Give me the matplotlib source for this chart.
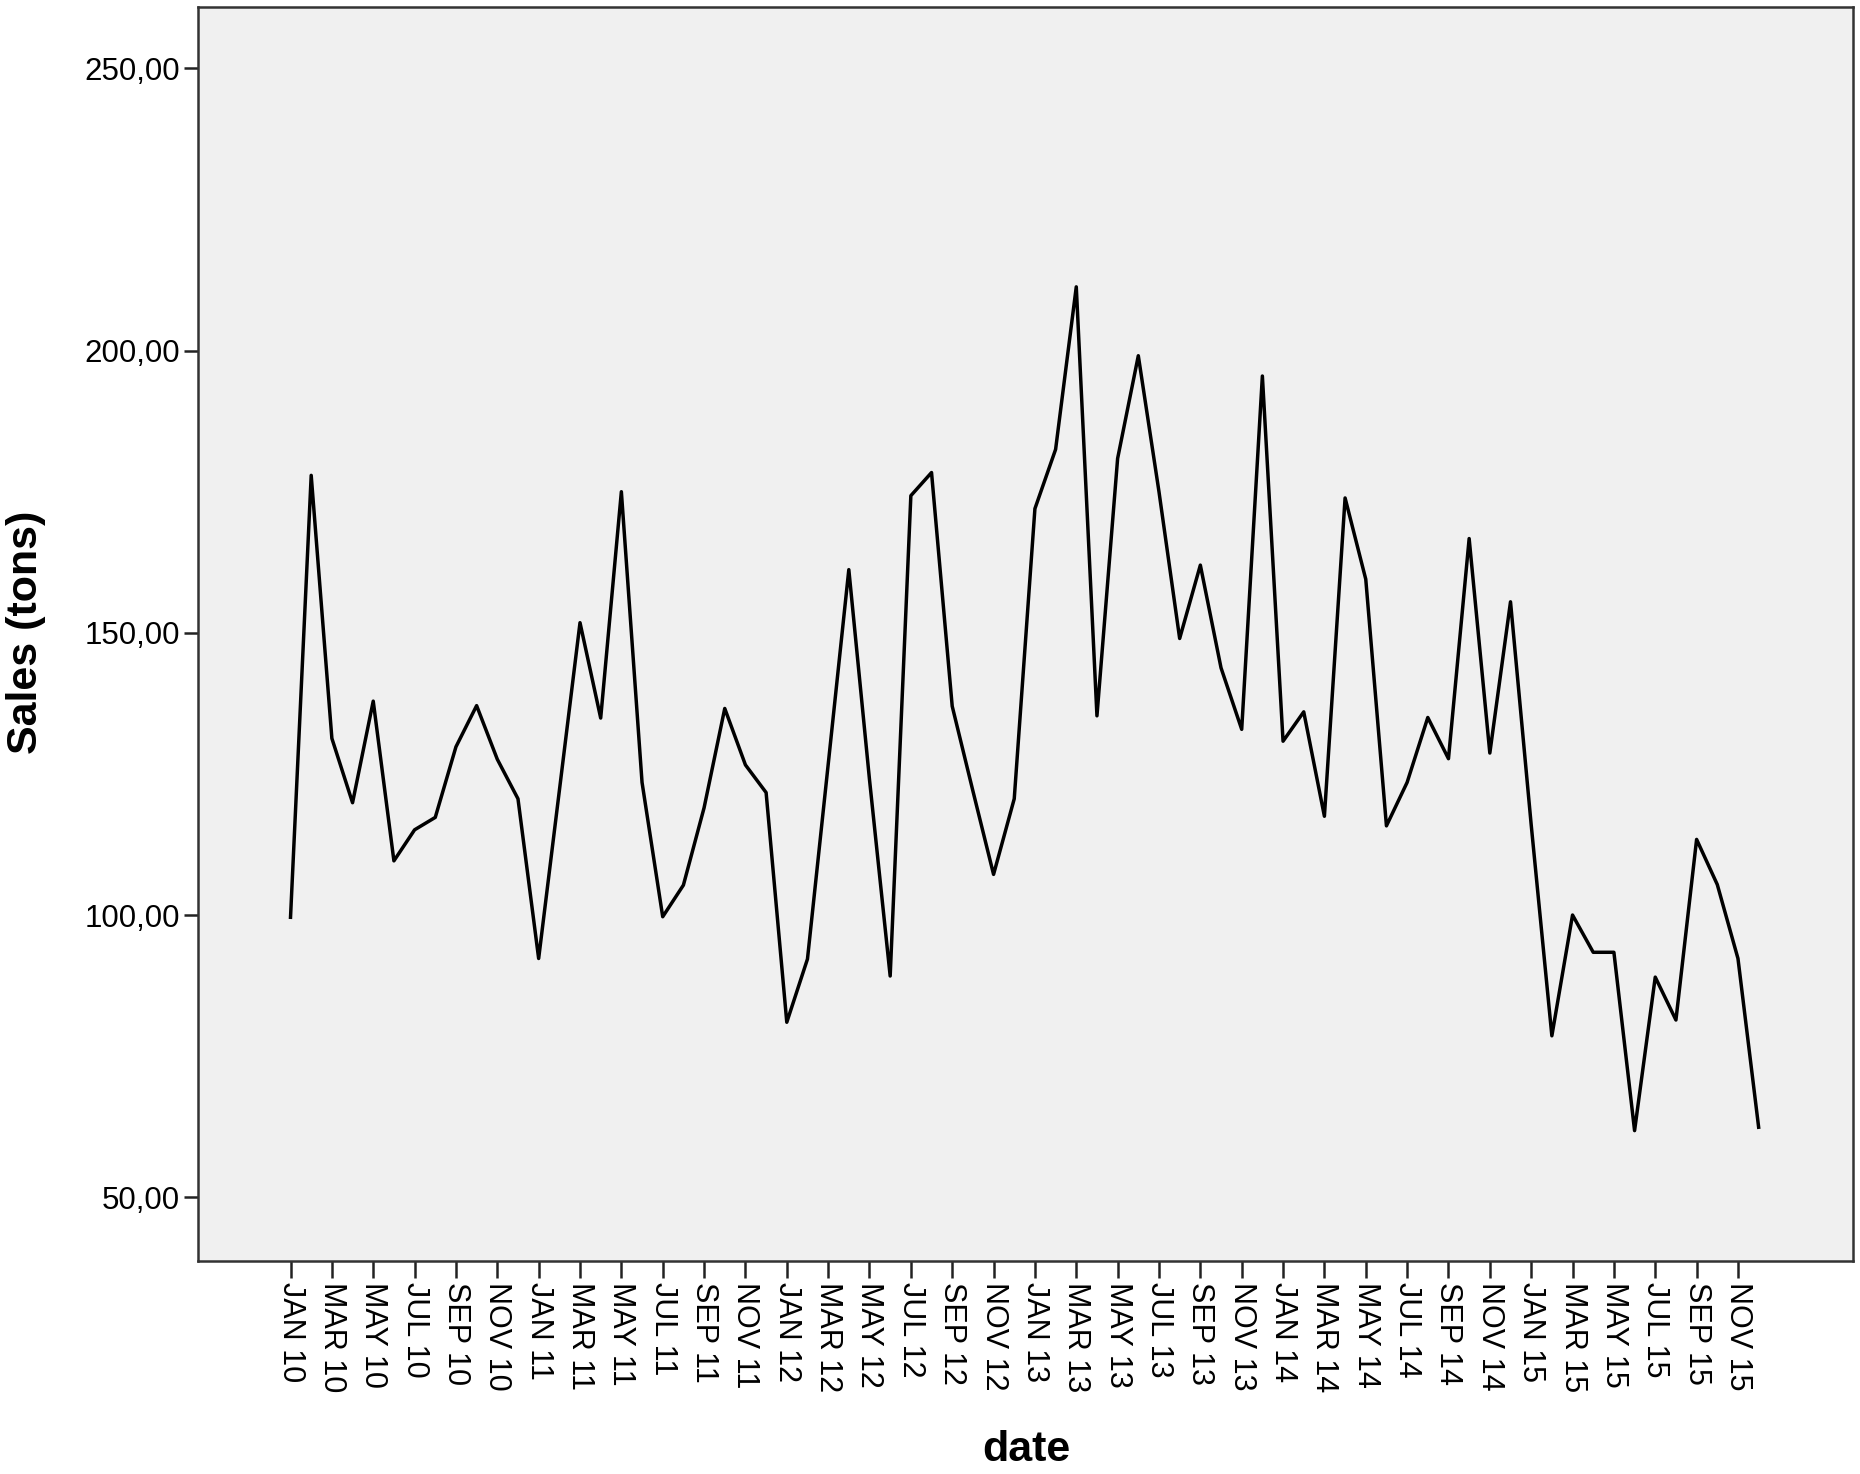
import numpy as np
import matplotlib
matplotlib.use("Agg")
import matplotlib.pyplot as plt
from matplotlib.ticker import FuncFormatter

plt.rcParams['font.family'] = ['Liberation Sans', 'DejaVu Sans']

# monthly sales (tons)
sales_2010 = [99.6, 177.9, 131.3, 119.9, 137.9, 109.6, 115.1, 117.3, 129.8, 137.1, 127.6, 120.6]
sales_2011 = [92.3, 122.0, 151.8, 134.9, 175.0, 123.5, 99.7, 105.3, 119.0, 136.6, 126.6, 121.7]
sales_2012 = [81.0, 92.2, 126.6, 161.2, 124.0, 89.2, 174.3, 178.4, 137.0, 122.0, 107.2, 120.6]
sales_2013 = [172.0, 182.5, 211.3, 135.3, 180.9, 199.1, 175.0, 149.0, 162.0, 143.8, 132.9, 195.5]
sales_2014 = [130.8, 136.0, 117.5, 173.9, 159.5, 115.8, 123.5, 135.0, 127.7, 166.7, 128.7, 155.5]
sales_2015 = [116.0, 78.6, 100.0, 93.4, 93.4, 61.8, 89.0, 81.4, 113.4, 105.4, 92.3, 62.4]

months = ['JAN', 'FEB', 'MAR', 'APR', 'MAY', 'JUN', 'JUL', 'AUG', 'SEP', 'OCT', 'NOV', 'DEC']
years = ['10', '11', '12', '13', '14', '15']
y_ticks = [50, 100, 150, 200, 250]

sales = np.array(sales_2010 + sales_2011 + sales_2012 + sales_2013 + sales_2014 + sales_2015)
labels = [f"{m} {y}" for y in years for m in months]
x = np.arange(len(sales))

fig = plt.figure(figsize=(18.6, 14.74), dpi=100)
ax = fig.add_axes([0.1065, 0.1445, 0.8897, 0.8508])
ax.set_facecolor('#f0f0f0')

ax.plot(x, sales, color='black', linewidth=2.5)

ax.set_xlim(-4.47, 75.56)
ax.set_ylim(38.7, 260.9)

# every second month gets a label, like the SPSS output
ax.set_xticks(x[::2])
ax.set_xticklabels(labels[::2], rotation=-90, fontsize=22, va='top', ha='center')
ax.set_yticks(y_ticks)
ax.yaxis.set_major_formatter(FuncFormatter(lambda v, p: f"{v:.2f}".replace('.', ',')))
ax.tick_params(axis='y', labelsize=22.5, length=10, width=1.8, color='#222222', pad=3)
ax.tick_params(axis='x', length=12, width=1.8, color='#222222', pad=3)

for s in ax.spines.values():
    s.set_color('#333333')
    s.set_linewidth(1.8)

# axis titles placed in figure coords so they sit where the reference has them
fig.text(0.014, 0.571, 'Sales (tons)', rotation=90, fontsize=31, fontweight='bold',
         ha='center', va='center')
fig.text(0.5516, 0.016, 'date', fontsize=31, fontweight='bold', ha='center', va='center')

fig.savefig('out.png', dpi=100, facecolor='white')
